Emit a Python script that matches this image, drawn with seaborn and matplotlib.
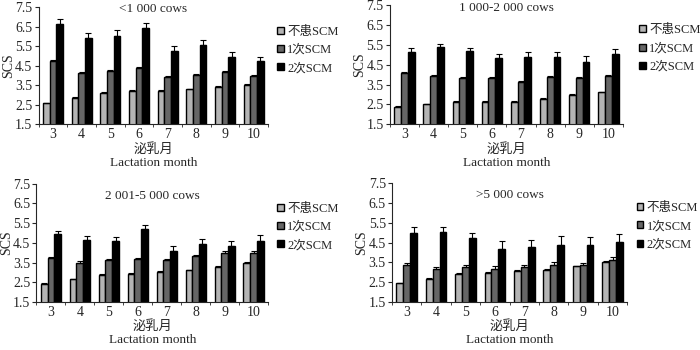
import numpy as np
import pandas as pd
import matplotlib.pyplot as plt
import seaborn as sns
from matplotlib.patches import Patch

months = [3, 4, 5, 6, 7, 8, 9, 10]
groups = ["不患SCM", "1次SCM", "2次SCM"]
titles = ["<1 000 cows", "1 000-2 000 cows", "2 001-5 000 cows", ">5 000 cows"]

# mean SCS per herd size, per group
none_1 = [2.57, 2.86, 3.12, 3.20, 3.22, 3.29, 3.42, 3.52]
once_1 = [4.73, 4.14, 4.22, 4.36, 3.93, 4.03, 4.17, 3.97]
twice_1 = [6.65, 5.90, 6.04, 6.40, 5.26, 5.53, 4.94, 4.73]
none_2 = [2.38, 2.50, 2.63, 2.63, 2.63, 2.77, 2.98, 3.12]
once_2 = [4.07, 3.93, 3.82, 3.82, 3.63, 3.88, 3.83, 3.92]
twice_2 = [5.15, 5.37, 5.18, 4.82, 4.87, 4.87, 4.65, 5.03]
none_3 = [2.42, 2.65, 2.87, 2.94, 3.04, 3.12, 3.28, 3.50]
once_3 = [3.71, 3.50, 3.63, 3.66, 3.63, 3.84, 3.99, 4.00]
twice_3 = [4.94, 4.64, 4.62, 5.21, 4.08, 4.45, 4.36, 4.62]
none_4 = [2.44, 2.66, 2.92, 2.98, 3.08, 3.14, 3.30, 3.52]
once_4 = [3.39, 3.19, 3.27, 3.19, 3.26, 3.38, 3.35, 3.61]
twice_4 = [4.98, 5.03, 4.72, 4.19, 4.30, 4.38, 4.38, 4.53]

# standard errors
se_none = [0.03] * 8
se_once_1 = [0.05, 0.05, 0.05, 0.05, 0.06, 0.06, 0.06, 0.06]
se_twice_1 = [0.25, 0.27, 0.30, 0.29, 0.25, 0.30, 0.24, 0.21]
se_once_2 = [0.05, 0.06, 0.05, 0.05, 0.06, 0.06, 0.06, 0.06]
se_twice_2 = [0.18, 0.18, 0.18, 0.23, 0.25, 0.25, 0.30, 0.28]
se_once_3 = [0.06, 0.06, 0.06, 0.06, 0.07, 0.07, 0.08, 0.08]
se_twice_3 = [0.18, 0.20, 0.20, 0.21, 0.28, 0.23, 0.26, 0.30]
se_once_4 = [0.09, 0.10, 0.10, 0.13, 0.10, 0.12, 0.13, 0.15]
se_twice_4 = [0.32, 0.26, 0.28, 0.37, 0.34, 0.47, 0.40, 0.42]

panels = [
    (none_1, once_1, twice_1, se_once_1, se_twice_1),
    (none_2, once_2, twice_2, se_once_2, se_twice_2),
    (none_3, once_3, twice_3, se_once_3, se_twice_3),
    (none_4, once_4, twice_4, se_once_4, se_twice_4),
]

colors = ["#b4b4b4", "#666666", "#000000"]

sns.set_style("ticks")
plt.rcParams["font.family"] = ["Liberation Serif", "Noto Sans CJK SC"]
plt.rcParams["font.size"] = 10

fig = plt.figure(figsize=(7, 3.5), dpi=100)
rects = [
    (0.055, 0.645, 0.328, 0.335),
    (0.557, 0.645, 0.333, 0.340),
    (0.052, 0.137, 0.331, 0.338),
    (0.560, 0.137, 0.336, 0.340),
]
title_y = [0.98, 0.98, 0.9, 0.9]
legend_x = [1.04, 1.07, 1.04, 1.04]

for (none, once, twice, se1, se2), title, rect, ty, lx in zip(panels, titles, rects, title_y, legend_x):
    ax = fig.add_axes(rect)
    df = pd.DataFrame({
        "month": months * 3,
        "group": [groups[0]] * 8 + [groups[1]] * 8 + [groups[2]] * 8,
        "scs": none + once + twice,
        "se": se_none + se1 + se2,
    })
    sns.barplot(data=df, x="month", y="scs", hue="group", hue_order=groups,
                palette=colors, width=0.7, errorbar=None, edgecolor="black",
                linewidth=1.0, ax=ax, legend=False)
    # upward error bars from the bar tops
    for cont, g in zip(ax.containers, groups):
        sub = df[df["group"] == g]
        xs = [b.get_x() + b.get_width() / 2 for b in cont]
        ax.errorbar(xs, sub["scs"].values, yerr=[np.zeros(8), sub["se"].values],
                    fmt="none", ecolor="black", elinewidth=0.8, capsize=2.5,
                    capthick=0.8)

    ax.set_ylim(1.5, 7.5)
    ax.set_yticks(np.arange(1.5, 7.6, 1.0))
    ax.set_xlim(-0.5, 7.5)
    ax.set_xticks(range(8))
    ax.set_xticklabels([str(m) for m in months])
    ax.set_xticks(np.arange(-0.5, 8, 1), minor=True)
    ax.tick_params(axis="x", which="major", length=0, labelsize=10, pad=3)
    ax.tick_params(axis="x", which="minor", length=2, direction="out")
    ax.tick_params(axis="y", length=3, labelsize=10, pad=1.5)
    ax.set_xlabel("泌乳月\nLactation month", fontsize=9.5, labelpad=1, linespacing=1.1)
    ax.set_ylabel("SCS", fontsize=10)
    ax.yaxis.set_label_coords(-0.1, 0.5)
    ax.text(0.5, ty, title, transform=ax.transAxes, ha="center", va="center",
            fontsize=9.5)
    sns.despine(ax=ax)

    handles = [Patch(facecolor=c, edgecolor="black", linewidth=1.0) for c in colors]
    ax.legend(handles, groups, loc="upper left", bbox_to_anchor=(lx, 0.84),
              frameon=False, fontsize=9, handlelength=0.5, handleheight=0.5,
              handletextpad=0.3, labelspacing=0.5, borderaxespad=0, borderpad=0)

fig.savefig("out.png", dpi=100)
